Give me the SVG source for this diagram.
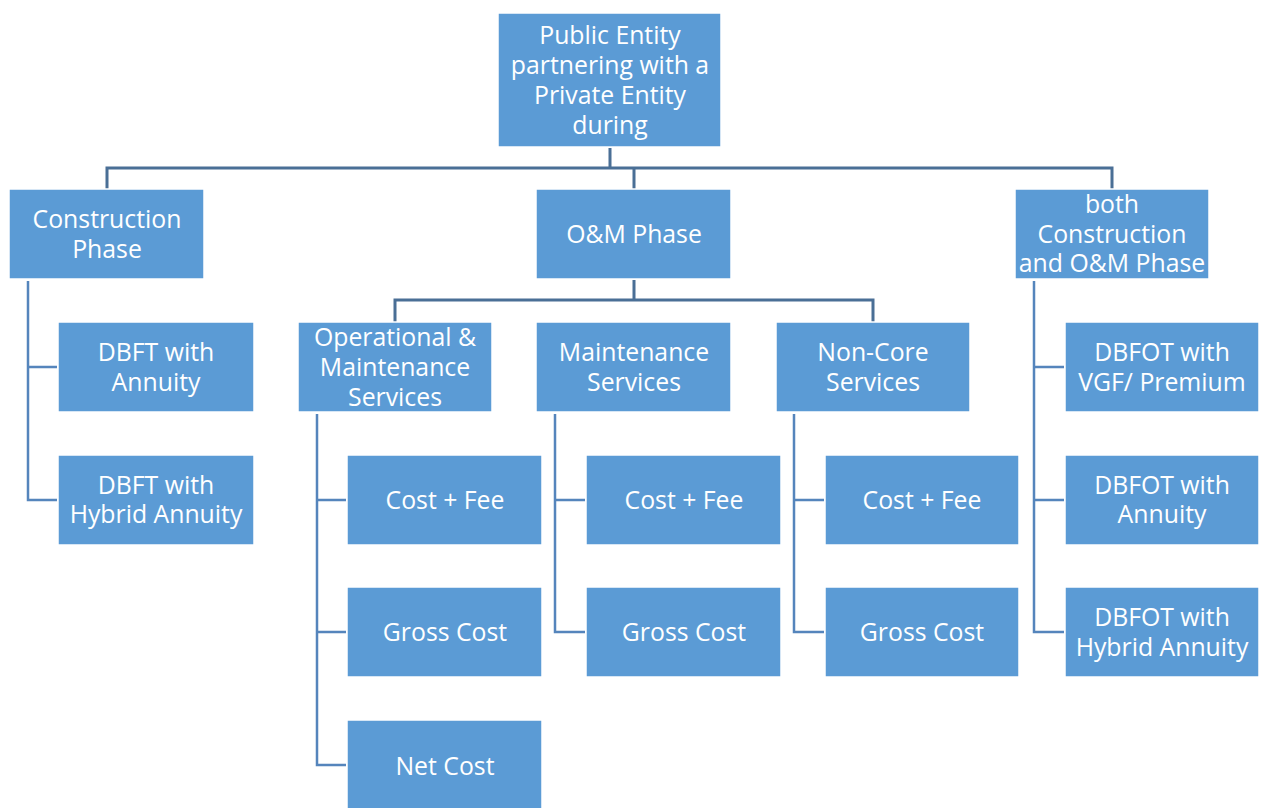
<svg xmlns="http://www.w3.org/2000/svg" width="1264" height="808" viewBox="0 0 1264 808">
<style>
.box{fill:#5B9BD5;stroke:#ffffff;stroke-width:1.5}
.t{font-family:"Open Sans","Liberation Sans",sans-serif;font-size:24.8px;fill:#ffffff;text-anchor:middle}
.top{fill:none;stroke:#4A6F96;stroke-width:3}
.sp{fill:none;stroke:#5585BC;stroke-width:2.5}
</style>
<rect width="1264" height="808" fill="#ffffff"/>
<g id="connectors">
<path class="top" d="M610,148 V168 M107,189 V168 H1112 V189 M634,168 V189"/>
<path class="top" d="M634,280 V300 M395,322 V300 H873 V322"/>
<path class="sp" d="M28,281 V500 H57 M28,367 H57"/>
<path class="sp" d="M1034,281 V632 H1064 M1034,367 H1064 M1034,500 H1064"/>
<path class="sp" d="M317,414 V765 H346 M317,500 H346 M317,632 H346"/>
<path class="sp" d="M555,414 V632 H585 M555,500 H585"/>
<path class="sp" d="M794,414 V632 H824 M794,500 H824"/>
</g>
<g id="root"><rect class="box" x="498" y="13" width="223" height="134"/>
<text class="t" x="610" y="44">Public Entity</text><text class="t" x="610" y="74">partnering with a</text><text class="t" x="610" y="104">Private Entity</text><text class="t" x="610" y="134">during</text></g>
<g id="construction"><rect class="box" x="9" y="189" width="195" height="90"/>
<text class="t" x="107" y="228">Construction</text><text class="t" x="107" y="258">Phase</text></g>
<g id="om"><rect class="box" x="536" y="189" width="195" height="90"/>
<text class="t" x="634" y="243">O&amp;M Phase</text></g>
<g id="both"><rect class="box" x="1015" y="189" width="194" height="90"/>
<text class="t" x="1112" y="213">both</text><text class="t" x="1112" y="243">Construction</text><text class="t" x="1112" y="272">and O&amp;M Phase</text></g>
<g id="dbft-annuity"><rect class="box" x="58" y="322" width="196" height="90"/>
<text class="t" x="156" y="361">DBFT with</text><text class="t" x="156" y="391">Annuity</text></g>
<g id="dbft-hybrid"><rect class="box" x="58" y="455" width="196" height="90"/>
<text class="t" x="156" y="494">DBFT with</text><text class="t" x="156" y="523">Hybrid Annuity</text></g>
<g id="oms"><rect class="box" x="298" y="322" width="194" height="90"/>
<text class="t" x="395" y="346">Operational &amp;</text><text class="t" x="395" y="376">Maintenance</text><text class="t" x="395" y="406">Services</text></g>
<g id="ms"><rect class="box" x="536" y="322" width="195" height="90"/>
<text class="t" x="634" y="361">Maintenance</text><text class="t" x="634" y="391">Services</text></g>
<g id="ncs"><rect class="box" x="776" y="322" width="194" height="90"/>
<text class="t" x="873" y="361">Non-Core</text><text class="t" x="873" y="391">Services</text></g>
<g id="dbfot-vgf"><rect class="box" x="1065" y="322" width="194" height="90"/>
<text class="t" x="1162" y="361">DBFOT with</text><text class="t" x="1162" y="391">VGF/ Premium</text></g>
<g id="dbfot-annuity"><rect class="box" x="1065" y="455" width="194" height="90"/>
<text class="t" x="1162" y="494">DBFOT with</text><text class="t" x="1162" y="523">Annuity</text></g>
<g id="dbfot-hybrid"><rect class="box" x="1065" y="587" width="194" height="90"/>
<text class="t" x="1162" y="626">DBFOT with</text><text class="t" x="1162" y="656">Hybrid Annuity</text></g>
<g id="oms-costfee"><rect class="box" x="347" y="455" width="195" height="90"/>
<text class="t" x="445" y="509">Cost + Fee</text></g>
<g id="oms-gross"><rect class="box" x="347" y="587" width="195" height="90"/>
<text class="t" x="445" y="641">Gross Cost</text></g>
<g id="oms-net"><rect class="box" x="347" y="720" width="195" height="92"/>
<text class="t" x="445" y="775">Net Cost</text></g>
<g id="ms-costfee"><rect class="box" x="586" y="455" width="195" height="90"/>
<text class="t" x="684" y="509">Cost + Fee</text></g>
<g id="ms-gross"><rect class="box" x="586" y="587" width="195" height="90"/>
<text class="t" x="684" y="641">Gross Cost</text></g>
<g id="ncs-costfee"><rect class="box" x="825" y="455" width="194" height="90"/>
<text class="t" x="922" y="509">Cost + Fee</text></g>
<g id="ncs-gross"><rect class="box" x="825" y="587" width="194" height="90"/>
<text class="t" x="922" y="641">Gross Cost</text></g>
</svg>
